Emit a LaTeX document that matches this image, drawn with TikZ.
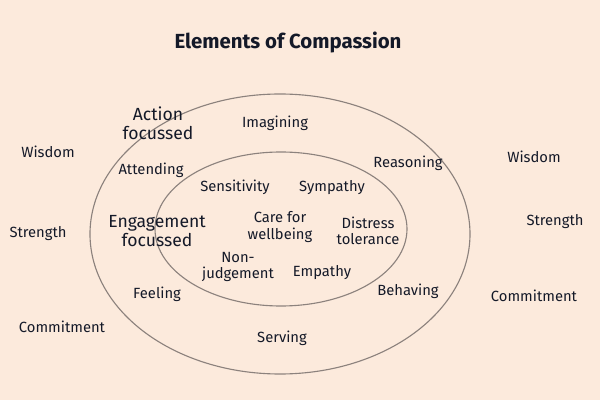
\documentclass[tikz,border=0pt]{standalone}
\usepackage{fontspec}
\setmainfont{Fira Sans}
\definecolor{bg}{RGB}{252,234,220}
\definecolor{ink}{RGB}{20,25,40}
\definecolor{ring}{RGB}{140,130,125}
\begin{document}
\begin{tikzpicture}[x=0.025cm,y=-0.025cm,
  lbl/.style={text=ink,font=\fontsize{10.5}{11.5}\selectfont,align=center,inner sep=1pt},
  big/.style={text=ink,font=\fontsize{12.5}{13.5}\selectfont,align=center,inner sep=1pt},
  ttl/.style={text=ink,font=\bfseries\fontsize{14.5}{16}\selectfont}]
\fill[bg] (0,0) rectangle (600,400);
\useasboundingbox (0,0) rectangle (600,400);
\draw[ring,line width=0.8pt] (280,234) ellipse [x radius=190, y radius=140];
\draw[ring,line width=0.8pt] (281,229) ellipse [x radius=126, y radius=77];
\node[ttl] (t) at (288,42) {Elements of Compassion};
\node[big] (af) at (158,123) {Action\\focussed};
\node[big] (ef) at (157,231) {Engagement\\focussed};
\node[lbl] (im) at (275,123) {Imagining};
\node[lbl] (at) at (151,170) {Attending};
\node[lbl] (re) at (408,163) {Reasoning};
\node[lbl] (se) at (235,187) {Sensitivity};
\node[lbl] (sy) at (332,188) {Sympathy};
\node[lbl] (cw) at (280,227) {Care for\\wellbeing};
\node[lbl] (dt) at (368,231) {Distress\\tolerance};
\node[lbl] (nj) at (238,267) {Non-\\judgement};
\node[lbl] (em) at (322,273) {Empathy};
\node[lbl] (fe) at (157,294) {Feeling};
\node[lbl] (be) at (408,291) {Behaving};
\node[lbl] (sv) at (282,338) {Serving};
\node[lbl] (w1) at (48,152) {Wisdom};
\node[lbl] (s1) at (38,234) {Strength};
\node[lbl] (c1) at (62,327) {Commitment};
\node[lbl] (w2) at (534,157) {Wisdom};
\node[lbl] (s2) at (555,222) {Strength};
\node[lbl] (c2) at (534,296) {Commitment};
\end{tikzpicture}
\end{document}
